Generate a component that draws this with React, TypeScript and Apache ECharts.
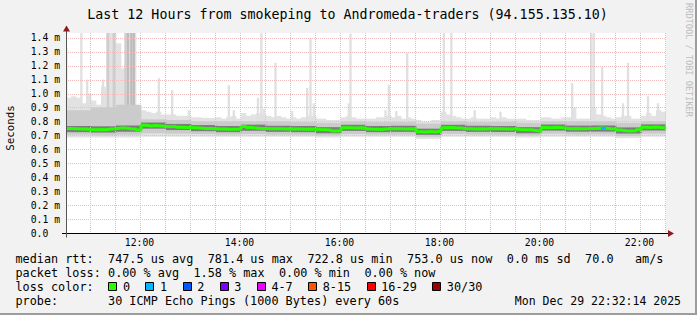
import React, { useEffect, useRef } from "react";
import * as echarts from "echarts";

// ---------- data (values in milliseconds; axis unit "m" = ms) ----------
const TITLE = "Last 12 Hours from smokeping to Andromeda-traders (94.155.135.10)";
const START = 631.8; // 10:31:48 as minutes of day
const END = 1351.8; // 22:31:48
const BIN = 6; // minutes per fine bin
const HALF = 30; // minutes per coarse bin

// median rtt per 6-minute bin
const medianMs = [
  0.750, 0.748, 0.745, 0.745, 0.742, 0.740, 0.742, 0.740, 0.745, 0.748,
  0.753, 0.752, 0.747, 0.745, 0.738, 0.772, 0.768, 0.770, 0.768, 0.765,
  0.762, 0.765, 0.758, 0.757, 0.756, 0.755, 0.752, 0.750, 0.750, 0.748,
  0.745, 0.745, 0.743, 0.744, 0.746, 0.764, 0.757, 0.752, 0.750, 0.750,
  0.748, 0.747, 0.748, 0.746, 0.747, 0.746, 0.745, 0.744, 0.745, 0.744,
  0.742, 0.741, 0.738, 0.732, 0.733, 0.755, 0.754, 0.753, 0.754, 0.752,
  0.745, 0.743, 0.742, 0.746, 0.747, 0.748, 0.747, 0.746, 0.747, 0.746,
  0.726, 0.724, 0.727, 0.725, 0.730, 0.755, 0.756, 0.754, 0.753, 0.748,
  0.747, 0.746, 0.748, 0.745, 0.747, 0.748, 0.747, 0.745, 0.746, 0.745,
  0.742, 0.741, 0.740, 0.735, 0.730, 0.757, 0.755, 0.758, 0.756, 0.752,
  0.748, 0.749, 0.747, 0.748, 0.749, 0.750, 0.752, 0.751, 0.747, 0.746,
  0.738, 0.733, 0.732, 0.734, 0.740, 0.758, 0.756, 0.760, 0.757, 0.755,
];

// highest ping (light smoke top) per 6-minute bin
const smokeTopMs = [
  0.97, 0.98, 0.97, 0.93, 1.00, 0.95, 0.92, 1.05, 1.44, 1.44,
  1.36, 1.18, 1.44, 1.44, 0.90, 0.88, 0.87, 0.86, 0.87, 0.85,
  0.85, 0.85, 0.84, 0.84, 0.84, 0.83, 0.83, 0.825, 0.825, 0.825,
  0.83, 0.82, 0.83, 0.84, 0.82, 0.86, 0.84, 0.85, 0.86, 0.85,
  0.84, 0.83, 0.84, 0.83, 0.82, 0.83, 0.82, 0.83, 0.84, 0.84,
  0.82, 0.82, 0.81, 0.81, 0.81, 0.83, 0.84, 0.83, 0.82, 0.82,
  0.82, 0.82, 0.83, 0.83, 0.84, 0.83, 0.84, 0.82, 0.83, 0.82,
  0.81, 0.80, 0.80, 0.81, 0.81, 0.87, 0.85, 0.84, 0.83, 0.82,
  0.82, 0.83, 0.82, 0.82, 0.82, 0.83, 0.82, 0.83, 0.82, 0.82,
  0.82, 0.82, 0.81, 0.81, 0.81, 0.83, 0.83, 0.82, 0.82, 0.83,
  0.83, 0.90, 0.82, 0.82, 0.82, 0.90, 0.85, 0.84, 0.83, 0.82,
  0.83, 0.84, 0.84, 0.82, 0.82, 0.84, 0.86, 0.84, 0.88, 0.87,
];

// per 30-minute bin: lowest ping, bulk of pings, dense core
const smokeFloorMs = [0.685, 0.685, 0.685, 0.69, 0.69, 0.69, 0.69, 0.69, 0.69, 0.69, 0.685, 0.69, 0.69, 0.69, 0.675, 0.69, 0.69, 0.69, 0.685, 0.69, 0.69, 0.69, 0.68, 0.69];
const midLowMs = [0.705, 0.70, 0.705, 0.715, 0.712, 0.71, 0.705, 0.71, 0.705, 0.705, 0.70, 0.71, 0.705, 0.705, 0.69, 0.71, 0.705, 0.705, 0.70, 0.712, 0.706, 0.707, 0.695, 0.712];
const midTopMs = [0.88, 0.90, 0.92, 0.815, 0.81, 0.80, 0.80, 0.80, 0.80, 0.795, 0.79, 0.80, 0.795, 0.795, 0.785, 0.80, 0.795, 0.795, 0.79, 0.80, 0.80, 0.80, 0.79, 0.80];
const coreLowMs = [0.723, 0.72, 0.726, 0.748, 0.738, 0.73, 0.723, 0.733, 0.725, 0.723, 0.715, 0.732, 0.723, 0.725, 0.704, 0.732, 0.725, 0.724, 0.715, 0.734, 0.726, 0.727, 0.713, 0.735];
const coreTopMs = [0.767, 0.765, 0.77, 0.792, 0.782, 0.774, 0.767, 0.777, 0.769, 0.767, 0.759, 0.776, 0.767, 0.769, 0.748, 0.776, 0.769, 0.768, 0.759, 0.778, 0.77, 0.771, 0.757, 0.779];

// isolated slow pings: [time, rtt ms, pings at that height]
const spikes: [string, number, number][] = [
  ["10:32", 1.33, 1], ["10:50", 1.44, 1], ["10:57", 1.10, 1], ["11:16", 1.10, 1],
  ["11:22", 1.44, 2], ["11:29", 1.44, 2], ["11:43", 1.44, 2], ["11:46", 1.44, 3],
  ["11:50", 1.44, 3], ["11:53", 1.44, 3], ["12:23", 1.11, 1], ["12:39", 1.025, 1],
  ["12:59", 0.88, 1], ["13:47", 1.06, 1], ["13:53", 0.88, 1], ["14:22", 0.97, 1],
  ["14:26", 1.44, 1], ["14:29", 0.89, 1], ["14:43", 1.22, 1], ["15:03", 0.875, 1],
  ["15:21", 1.04, 1], ["15:25", 1.40, 1], ["15:29", 0.93, 1], ["16:11", 0.93, 1],
  ["16:13", 1.43, 1], ["16:55", 0.88, 1], ["16:59", 1.06, 1], ["17:08", 0.875, 1],
  ["17:21", 1.29, 1], ["18:05", 1.44, 1], ["18:14", 1.44, 1], ["18:42", 0.88, 1],
  ["19:13", 0.87, 1], ["20:39", 1.075, 1], ["21:02", 1.44, 1], ["21:05", 1.44, 1],
  ["21:15", 1.19, 1], ["21:40", 0.93, 1], ["21:46", 1.22, 1], ["22:10", 0.98, 1],
  ["22:22", 0.93, 1],
];

// bins with packet loss: [bin index, lost pings]
const lossEvents: [number, number][] = [[107, 1]];

const yTickValues = [0.1, 0.2, 0.3, 0.4, 0.5, 0.6, 0.7, 0.8, 0.9, 1.0, 1.1, 1.2, 1.3, 1.4];

const lossLabels = ["0", "1", "2", "3", "4-7", "8-15", "16-29", "30/30"];
const lossColors = ["#26ff00", "#00b8ff", "#0059ff", "#7e00ff", "#ee00ff", "#ff5500", "#ff0000", "#a10000"];

const rttStats = ["747.5 us avg", "781.4 us max", "722.8 us min", "753.0 us now", "0.0 ms sd", "70.0", "am/s"];
const lossStats = ["0.00 % avg", "1.58 % max", "0.00 % min", "0.00 % now"];
const probeText = "30 ICMP Echo Pings (1000 Bytes) every 60s";
const stampText = "Mon Dec 29 22:32:14 2025";

// ---------- layout ----------
const W = 697;
const H = 315;
const GRID = { left: 66, top: 33, width: 600, height: 200 };
const Y_MAX = 1.434;
const MONO = "'DejaVu Sans Mono', 'Liberation Mono', monospace";
const GRID_COLOR = "#efbcbc";
const LEG_X0 = 15.5;
const LEG_CW = 7.12;
const rttCols = [13, 27, 41, 55, 69, 80, 87];
const lossCols = [13, 25, 37, 49];
const BOX_X0 = 108.3;
const BOX_TO_TEXT = 14.6;
const TEXT_TO_BOX = 15.4;
const rowY = [259.3, 273.3, 287.3, 301];

const hm = (s: string) => {
  const [h, m] = s.split(":").map(Number);
  return h * 60 + m;
};

const lossIndex = (n: number) => (n <= 3 ? n : n <= 7 ? 4 : n <= 15 ? 5 : n <= 29 ? 6 : 7);

function rectRenderer(fillFor: (api: any) => string) {
  return (params: any, api: any) => {
    const a = api.coord([api.value(0), api.value(3)]);
    const b = api.coord([api.value(1), api.value(2)]);
    const cs = params.coordSys;
    const shape = echarts.graphic.clipRectByRect(
      { x: a[0], y: a[1], width: b[0] - a[0] + 0.35, height: b[1] - a[1] },
      { x: cs.x, y: cs.y, width: cs.width, height: cs.height }
    );
    if (!shape) return null;
    return { type: "rect", shape, style: { fill: fillFor(api) } };
  };
}

function buildOption(): any {
  const binStart = (i: number) => START + i * BIN;
  const lightData = smokeTopMs.map((top, i) => [
    binStart(i),
    binStart(i) + BIN,
    smokeFloorMs[Math.min(smokeFloorMs.length - 1, Math.floor((i * BIN) / HALF))],
    top,
  ]);
  const midData = midTopMs.map((top, j) => [START + j * HALF, START + (j + 1) * HALF, midLowMs[j], top]);
  const coreData = coreTopMs.map((top, j) => [START + j * HALF, START + (j + 1) * HALF, coreLowMs[j], top]);
  const spikeData = spikes.map(([clk, top, n]) => {
    const t = hm(clk);
    return [t - 1.2, t + 1.2, 0.8, top, n];
  });
  const medianPts: number[][] = medianMs.map((v, i) => [binStart(i), v]);
  medianPts.push([END, medianMs[medianMs.length - 1]]);

  const xGrid: number[][] = [];
  for (let t = Math.ceil(START / HALF) * HALF; t <= END; t += HALF) xGrid.push([t, 0]);
  const yGrid = yTickValues.map((v) => [START, v]);

  const lossSeries = lossEvents.map(([bin, n]) => ({
    type: "line",
    data: [
      [binStart(bin), medianMs[bin]],
      [binStart(bin) + BIN, medianMs[bin]],
    ],
    symbol: "none",
    z: 6,
    lineStyle: { color: lossColors[lossIndex(n)], width: 3 },
    silent: true,
  }));

  const spikeFill = ["#e0e0e0", "#e0e0e0", "#cdcdcd", "#bcbcbc"];

  const gridLineStyle = { stroke: GRID_COLOR, lineWidth: 1, lineDash: [1, 1] };

  const graphics: any[] = [];
  // frame shading
  graphics.push({ type: "rect", shape: { x: W - 2, y: 0, width: 2, height: H }, style: { fill: "#9c9c9c" }, silent: true });
  graphics.push({ type: "rect", shape: { x: 0, y: H - 2, width: W, height: 2 }, style: { fill: "#9c9c9c" }, silent: true });
  // title
  graphics.push({
    type: "text", x: 347.5, y: 14,
    style: { text: TITLE, fontFamily: MONO, fontSize: 13.3, fill: "#000", align: "center", verticalAlign: "middle" },
  });
  // vertical axis title
  graphics.push({
    type: "text", x: 10.5, y: 128, rotation: Math.PI / 2,
    style: { text: "Seconds", fontFamily: MONO, fontSize: 10.8, fill: "#000", align: "center", verticalAlign: "middle" },
  });
  // watermark
  graphics.push({
    type: "text", x: 688.5, y: 60, rotation: -Math.PI / 2,
    style: { text: "RRDTOOL / TOBI OETIKER", fontFamily: MONO, fontSize: 8.6, fill: "#bdbdbd", align: "center", verticalAlign: "middle" },
  });
  // axes lines + arrows
  const x0 = GRID.left + 0.5;
  const yBase = GRID.top + GRID.height + 0.5;
  graphics.push({ type: "line", z: 20, shape: { x1: 62, y1: yBase, x2: 669, y2: yBase }, style: { stroke: "#000", lineWidth: 1 } });
  graphics.push({ type: "polygon", z: 21, shape: { points: [[668, yBase - 3.5], [674, yBase], [668, yBase + 3.5]] }, style: { fill: "#8e1b1b" } });
  graphics.push({ type: "line", z: 20, shape: { x1: x0, y1: yBase + 4, x2: x0, y2: 30 }, style: { stroke: "#555", lineWidth: 1 } });
  graphics.push({ type: "polygon", z: 21, shape: { points: [[x0 - 3.5, 31.5], [x0, 25.5], [x0 + 3.5, 31.5]] }, style: { fill: "#8e1b1b" } });

  const legText = (text: string, x: number, y: number) => ({
    type: "text", x, y,
    style: { text, fontFamily: MONO, fontSize: 11.8, fill: "#000", align: "left", verticalAlign: "middle" },
  });
  // row 1
  graphics.push(legText("median rtt:", LEG_X0, rowY[0]));
  rttStats.forEach((s, k) => graphics.push(legText(s, LEG_X0 + rttCols[k] * LEG_CW, rowY[0])));
  // row 2
  graphics.push(legText("packet loss:", LEG_X0, rowY[1]));
  lossStats.forEach((s, k) => graphics.push(legText(s, LEG_X0 + lossCols[k] * LEG_CW, rowY[1])));
  // row 3
  graphics.push(legText("loss color:", LEG_X0, rowY[2]));
  let bx = BOX_X0;
  lossLabels.forEach((lab, k) => {
    graphics.push({
      type: "rect",
      shape: { x: Math.round(bx) + 0.5, y: Math.round(rowY[2] - 4) - 0.5, width: 8, height: 8 },
      style: { fill: lossColors[k], stroke: "#000", lineWidth: 1 },
    });
    graphics.push(legText(lab, bx + BOX_TO_TEXT, rowY[2]));
    bx = bx + BOX_TO_TEXT + lab.length * LEG_CW + TEXT_TO_BOX;
  });
  // row 4
  graphics.push(legText("probe:", LEG_X0, rowY[3]));
  graphics.push(legText(probeText, LEG_X0 + 13 * LEG_CW, rowY[3]));
  graphics.push({
    type: "text", x: 681, y: rowY[3],
    style: { text: stampText, fontFamily: MONO, fontSize: 11.5, fill: "#000", align: "right", verticalAlign: "middle" },
  });

  return {
    animation: false,
    backgroundColor: "#f2f2f2",
    grid: { left: GRID.left, top: GRID.top, width: GRID.width, height: GRID.height, show: true, backgroundColor: "#ffffff", borderWidth: 0 },
    xAxis: {
      type: "value",
      min: START,
      max: END,
      splitNumber: 24,
      axisLine: { show: false },
      axisTick: { show: false },
      splitLine: { show: false },
      axisLabel: {
        fontFamily: MONO,
        fontSize: 9.75,
        color: "#000",
        margin: 4,
        formatter: (v: number) => {
          const r = Math.round(v);
          if (Math.abs(v - r) > 0.01 || r % 120 !== 0) return "";
          const h = Math.floor(r / 60);
          return `${String(h).padStart(2, "0")}:00`;
        },
      },
    },
    yAxis: {
      type: "value",
      min: 0,
      max: Y_MAX,
      interval: 0.1,
      axisLine: { show: false },
      axisTick: { show: false },
      splitLine: { show: false },
      axisLabel: {
        fontFamily: MONO,
        fontSize: 9.75,
        color: "#000",
        margin: 6,
        formatter: (v: number) => {
          const r = Math.round(v * 10) / 10;
          if (Math.abs(v - r) > 1e-6) return "";
          return r === 0 ? "0.0{u|}" : `${r.toFixed(1)}{u|m}`;
        },
        rich: { u: { width: 11.7, align: "right", fontFamily: MONO, fontSize: 9.75, color: "#000" } },
      },
    },
    graphic: graphics,
    series: [
      {
        type: "custom", z: 1, silent: true, data: lightData,
        encode: { x: [0, 1], y: [2, 3] },
        renderItem: rectRenderer(() => "#e2e2e2"),
      },
      {
        type: "custom", z: 1, silent: true, data: spikeData,
        encode: { x: [0, 1], y: [2, 3] },
        renderItem: rectRenderer((api) => spikeFill[Math.min(3, api.value(4))]),
      },
      {
        type: "custom", z: 2, silent: true, data: midData,
        encode: { x: [0, 1], y: [2, 3] },
        renderItem: rectRenderer(() => "#cbcbcb"),
      },
      {
        type: "custom", z: 2, silent: true, data: coreData,
        encode: { x: [0, 1], y: [2, 3] },
        renderItem: rectRenderer(() => "#7c7c7c"),
      },
      {
        type: "custom", z: 3, silent: true, data: yGrid,
        encode: { x: 0, y: 1 },
        renderItem: (params: any, api: any) => {
          const cs = params.coordSys;
          const y = Math.round(api.coord([api.value(0), api.value(1)])[1]) + 0.5;
          return { type: "line", shape: { x1: cs.x, y1: y, x2: cs.x + cs.width, y2: y }, style: gridLineStyle };
        },
      },
      {
        type: "custom", z: 3, silent: true, data: xGrid,
        encode: { x: 0, y: 1 },
        renderItem: (params: any, api: any) => {
          const cs = params.coordSys;
          const x = Math.round(api.coord([api.value(0), 0])[0]) + 0.5;
          return { type: "line", shape: { x1: x, y1: cs.y, x2: x, y2: cs.y + cs.height }, style: gridLineStyle };
        },
      },
      {
        type: "line", z: 5, silent: true, data: medianPts, step: "end", symbol: "none",
        lineStyle: { color: lossColors[0], width: 3 },
      },
      ...lossSeries,
    ],
  };
}

export default function App() {
  const ref = useRef<HTMLDivElement>(null);
  useEffect(() => {
    document.body.style.margin = "0";
    const chart = echarts.init(ref.current!, null, { renderer: "svg" });
    chart.setOption(buildOption());
    return () => chart.dispose();
  }, []);
  return <div ref={ref} style={{ width: W, height: H }} />;
}
